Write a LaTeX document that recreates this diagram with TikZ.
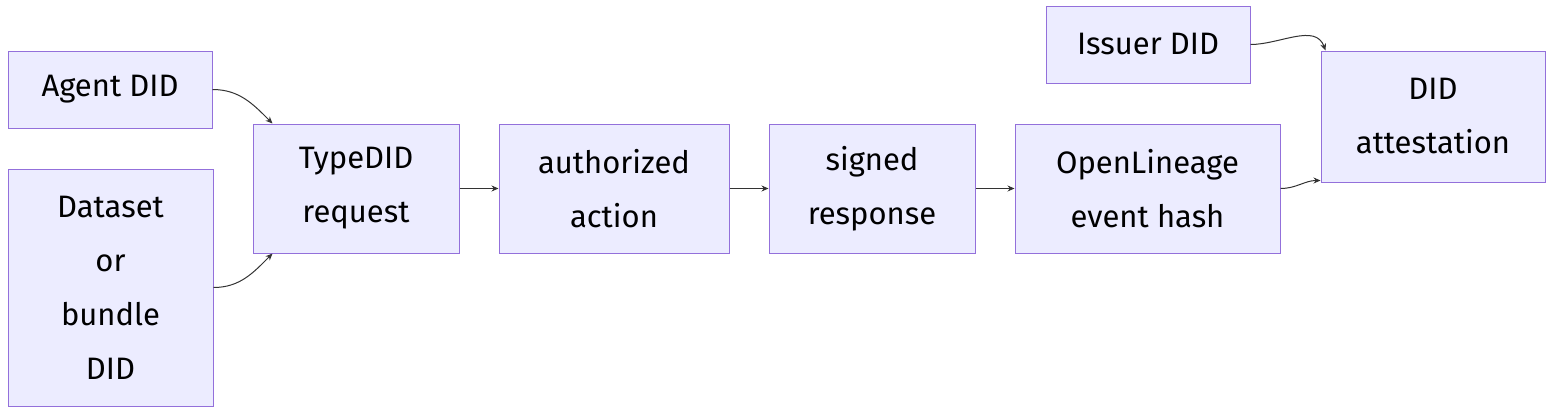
\documentclass[tikz,border=0pt]{standalone}
\usepackage{fontspec}
\setmainfont{Fira Sans}
\usetikzlibrary{arrows.meta,calc,positioning}
\definecolor{boxfill}{HTML}{ECECFF}
\definecolor{boxline}{HTML}{9370DB}
\definecolor{wire}{HTML}{333333}

\begin{document}
\begin{tikzpicture}[x=1pt,y=-1pt,% px coordinates, y down
			every node/.style={
				align=center,		% line breaks with "\\"
				font=\fontsize{31}{54}\selectfont,
				inner sep=0pt
			},
			stage/.style={rectangle,draw=boxline,fill=boxfill,line width=1pt},
			flow/.style={draw=wire,line width=1pt,-{Stealth[length=7pt,width=6pt]}}
		]
		\useasboundingbox (0,0) rectangle (1568,418);
		\node[stage,minimum width=204pt,minimum height=77pt](agent) at (110,89.5){Agent DID};
		\node[stage,minimum width=205pt,minimum height=237pt](data) at (110.5,287.5){Dataset\\or\\bundle\\DID};
		\node[stage,minimum width=206pt,minimum height=129pt](req) at (356,188.5){TypeDID\\request};
		\node[stage,minimum width=230pt,minimum height=129pt](act) at (614,188.5){authorized\\action};
		\node[stage,minimum width=206pt,minimum height=129pt](resp) at (872,188.5){signed\\response};
		\node[stage,minimum width=265pt,minimum height=129pt](hash) at (1147.5,188.5){OpenLineage\\event hash};
		\node[stage,minimum width=204pt,minimum height=77pt](issuer) at (1148,44.5){Issuer DID};
		\node[stage,minimum width=224pt,minimum height=131pt](att) at (1433,116.5){DID\\attestation};
		\coordinate (reqtop) at ($(req.north west)+(20,0)$);
		\coordinate (reqbot) at ($(req.south west)+(20,0)$);
		\coordinate (atttop) at ($(att.north west)+(5,0)$);
		\coordinate (attbot) at ($(att.south west)+(0,-2)$);
		\draw[flow] (agent.east) to[out=0,in=135] (reqtop);
		\draw[flow] (data.east) to[out=0,in=-135] (reqbot);
		\draw[flow] (req) -- (act);
		\draw[flow] (act) -- (resp);
		\draw[flow] (resp) -- (hash);
		\draw[flow] (hash.east) to[out=0,in=180] (attbot);
		\draw[flow] (issuer.east) to[out=0,in=110] (atttop);
	\end{tikzpicture}
\end{document}
